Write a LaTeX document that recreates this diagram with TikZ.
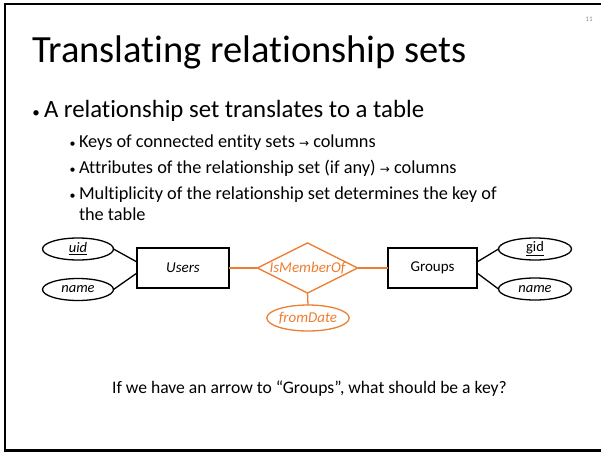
\documentclass[tikz,border=0pt]{standalone}
\usepackage{fontspec}
\setmainfont{Carlito}[Ligatures=NoCommon]
\newfontfamily\arrowfont{DejaVu Sans}
\usetikzlibrary{shapes.geometric}
\definecolor{rorange}{RGB}{237,125,49}
\newcommand{\sarrow}{{\arrowfont\fontsize{12}{14}\selectfont →}}
\begin{document}
\begin{tikzpicture}[x=1pt,y=-1pt,
  every node/.style={inner sep=0pt, outer sep=0pt},
  attr/.style={draw, ellipse, line width=1.3pt, minimum width=71pt, minimum height=22pt, font=\fontsize{14.5}{16}\selectfont\itshape},
  entity/.style={draw, rectangle, line width=1.3pt, minimum height=40pt, font=\fontsize{15}{16}\selectfont},
  rel/.style={draw=rorange, diamond, aspect=2, line width=1.3pt, minimum width=99pt, minimum height=50pt, text=rorange, font=\fontsize{15}{16}\selectfont\itshape},
  oattr/.style={draw=rorange, ellipse, line width=1.3pt, minimum width=70pt, minimum height=26pt, text=rorange, font=\fontsize{15}{16}\selectfont\itshape},
  conn/.style={line width=1.3pt},
  oconn/.style={line width=1.3pt, draw=rorange},
  lvlone/.style={anchor=base west, font=\fontsize{24.8}{28}\selectfont},
  lvltwo/.style={anchor=base west, font=\fontsize{18.3}{22}\selectfont},
  dotone/.style={anchor=base, font=\fontsize{15}{18}\selectfont},
  dottwo/.style={anchor=base, font=\fontsize{12}{14}\selectfont}]
\useasboundingbox (0,0) rectangle (601,452);
% frame
\draw[line width=2.5pt] (601,4) -- (5,4) -- (5,450.5) -- (601,450.5);
% page number
\node[text=black!45, font=\fontsize{7}{8}\selectfont] (pnum) at (589,19) {11};
% title
\node[anchor=base west, font=\fontsize{38.5}{44}\selectfont] (title) at (32,62) {Translating relationship sets};
% bullets
\node[dotone] (b1) at (36,117) {•};
\node[lvlone] (t1) at (44,117) {A relationship set translates to a table};
\node[dottwo] (b2) at (72.5,147.5) {•};
\node[lvltwo] (t2) at (79,147.5) {Keys of connected entity sets \sarrow{} columns};
\node[dottwo] (b3) at (72.5,173.5) {•};
\node[lvltwo] (t3) at (79,173.5) {Attributes of the relationship set (if any) \sarrow{} columns};
\node[dottwo] (b4) at (72.5,199.5) {•};
\node[lvltwo] (t4) at (79,199.5) {Multiplicity of the relationship set determines the key of};
\node[lvltwo] (t5) at (79,220.5) {the table};
% diagram
\node[attr] (uid) at (78,249) {\underline{uid}};
\node[attr] (lname) at (78,289.5) {name};
\node[entity, minimum width=92pt, font=\fontsize{15}{16}\selectfont\itshape] (users) at (183,268) {Users};
\node[rel] (mem) at (307.5,268) {IsMemberOf};
\node[entity, minimum width=89pt] (groups) at (432.5,268) {Groups};
\node[attr, minimum width=73pt, font=\fontsize{14.5}{16}\selectfont] (gid) at (535,249) {\underline{gid}};
\node[attr, minimum width=73pt] (rname) at (535,289) {name};
\node[oattr] (from) at (308,318) {fromDate};
\draw[conn] (uid.east) -- ([yshift=6pt]users.west);
\draw[conn] (lname.east) -- ([yshift=-5pt]users.west);
\draw[conn] ([yshift=6pt]groups.east) -- (gid.west);
\draw[conn] ([yshift=-5pt]groups.east) -- (rname.west);
\draw[oconn] (users.east) -- (mem.west);
\draw[oconn] (mem.east) -- (groups.west);
\draw[oconn] (mem.south) -- (from.north);
% question
\node[anchor=base, font=\fontsize{17.6}{20}\selectfont] (q) at (309.5,393) {If we have an arrow to “Groups”, what should be a key?};
\end{tikzpicture}
\end{document}
